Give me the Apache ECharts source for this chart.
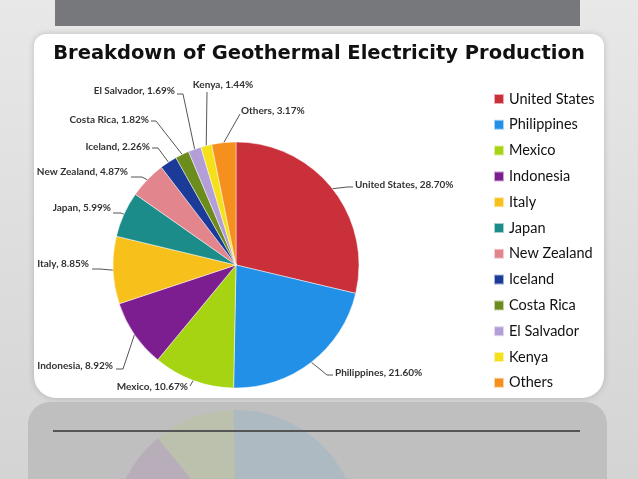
<!DOCTYPE html>
<html><head><meta charset="utf-8">
<script src="https://cdn.jsdelivr.net/npm/echarts@6/dist/echarts.min.js"></script>
<style>html,body{margin:0;padding:0;background:#e0e0e0}#c{width:638px;height:479px}</style>
</head><body><div id="c"></div>
<script>
// ---- data ----
const titleText = 'Breakdown of Geothermal Electricity Production';
const categories = ['United States','Philippines','Mexico','Indonesia','Italy','Japan','New Zealand','Iceland','Costa Rica','El Salvador','Kenya','Others'];
const shares = [28.70, 21.60, 10.67, 8.92, 8.85, 5.99, 4.87, 2.26, 1.82, 1.69, 1.44, 3.17];
const colors = ['#c9303a','#2290e6','#a6d412','#7c1d90','#f8c01a','#1b8c8a','#e2858d','#1c3b98','#6c8c1e','#b39ed8','#f4e11c','#f5901e'];

// ---- label placement (annotation layout, not data) ----
const LABEL_POS = [[355,185,'left'],[335,373,'left'],[188,387,'right'],[113,366,'right'],[89,264,'right'],[111,208,'right'],[128,172,'right'],[150,147,'right'],[149,120,'right'],[175,91,'right'],[223,85,'center'],[241,111,'left']];
const LINE_END  = [[353,187],[333,375],[190,386],[116,369],[92,269],[113,213],[131,177],[152,148],[151,121],[177,94],[207,92],[240,114]];
const LINE_HOOK = [6,6,0,7,8,8,11,6,5,6,0,0];

const chart = echarts.init(document.getElementById('c'), null, {renderer:'canvas'});
const pieData = categories.map((n,i)=>({name:n, value:shares[i], itemStyle:{color:colors[i]}}));

chart.setOption({
  backgroundColor: new echarts.graphic.LinearGradient(0,0,0,1,[{offset:0,color:'#e8e8e8'},{offset:1,color:'#d4d4d4'}]),
  animation:false,
  title:{ text:titleText, left:'center', top:39, padding:[5,12,5,5],
    textStyle:{fontFamily:'DejaVu Sans', fontWeight:'bold', fontSize:19.5, color:'#111'} },
  legend:{ orient:'vertical', left:488, top:86, itemWidth:10, itemHeight:10, itemGap:9.8, icon:'rect',
    data:categories,
    textStyle:{fontFamily:'Lato', fontSize:14.5, color:'#111', lineHeight:16} },
  graphic:[
    {type:'rect', z:0, shape:{x:55,y:0,width:525,height:26}, style:{fill:'#77787b'}},
    {type:'rect', z:0, shape:{x:34,y:34,width:570,height:364,r:[12,12,22,22]}, style:{fill:'#ffffff', shadowBlur:6, shadowColor:'rgba(0,0,0,0.18)'}},
    {type:'rect', z:0, shape:{x:28,y:402,width:579,height:90,r:[22,22,0,0]}, style:{fill:'#bfbfbf'}},
    {type:'line', z:10, shape:{x1:53,y1:431,x2:580,y2:431}, style:{stroke:'#555555', lineWidth:2}}
  ],
  series:[
    { type:'pie', name:'main', center:[236,265], radius:123, startAngle:90, clockwise:true,
      avoidLabelOverlap:false, data:pieData,
      itemStyle:{borderColor:'rgba(255,255,255,0.6)', borderWidth:0.8},
      label:{ show:true, position:'outside', fontFamily:'Lato', fontSize:10, fontWeight:'bold', color:'#333',
        formatter:p=>p.name+', '+p.value.toFixed(2)+'%' },
      labelLine:{ show:true, length:5, length2:5, lineStyle:{color:'#555', width:1} },
      labelLayout:function(p){
        const i=p.dataIndex, pos=LABEL_POS[i], end=LINE_END[i], hook=LINE_HOOK[i];
        const pts=p.labelLinePoints;
        const start = pts ? [pts[0][0],pts[0][1]] : end.slice();
        const dir = pos[2]==='left' ? -1 : 1;
        return { x:pos[0], y:pos[1], align:pos[2], verticalAlign:'middle',
          labelLinePoints:[start,[end[0]+dir*hook,end[1]],end.slice()] };
      },
      emphasis:{disabled:true}
    },
    { type:'pie', name:'reflection', silent:true, center:[236,533], radius:123, startAngle:-90, clockwise:false,
      data:pieData, label:{show:false}, labelLine:{show:false},
      itemStyle:{opacity:0.1}, emphasis:{disabled:true}, z:2 }
  ]
});
</script></body></html>
